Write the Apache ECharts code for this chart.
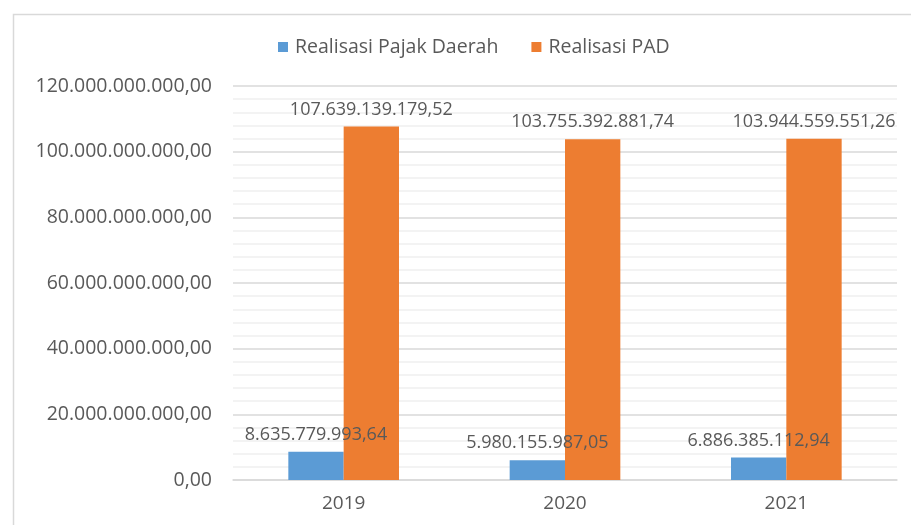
<!DOCTYPE html>
<html>
<head>
<meta charset="utf-8">
<script src="https://cdn.jsdelivr.net/npm/echarts@6/dist/echarts.min.js"></script>
<style>html,body{margin:0;padding:0;background:#fff;}#c{width:911px;height:525px;}</style>
</head>
<body>
<div id="c"></div>
<script>
var categories = ['2019', '2020', '2021'];
var pajakDaerah = [8635779993.64, 5980155987.05, 6886385112.94];
var realisasiPAD = [107639139179.52, 103755392881.74, 103944559551.26];
var seriesNames = ['Realisasi Pajak Daerah', 'Realisasi PAD'];

function fmtID(v) {
  var s = Number(v).toFixed(2).split('.');
  var intPart = s[0].replace(/\B(?=(\d{3})+(?!\d))/g, '.');
  return intPart + ',' + s[1];
}

var FONT = 'Open Sans';
var TXT = '#595959';
var chart = echarts.init(document.getElementById('c'), null, {renderer: 'canvas'});
chart.setOption({
  backgroundColor: '#fff',
  animation: false,
  graphic: [{
    type: 'rect', left: 11, top: 12, silent: true,
    shape: {x: 0, y: 0, width: 920, height: 540},
    style: {fill: 'none', stroke: '#d9d9d9', lineWidth: 1.5}
  }],
  legend: {
    top: 32, left: 273,
    itemWidth: 10, itemHeight: 10, itemGap: 33,
    icon: 'rect',
    textStyle: {fontFamily: FONT, fontSize: 19.5, color: TXT, padding: [0, 0, 0, 2]},
    data: seriesNames
  },
  grid: {left: 233, right: 14, top: 86, bottom: 45},
  xAxis: {
    type: 'category', data: categories,
    axisLine: {show: true, lineStyle: {color: '#d9d9d9', width: 1.5}},
    axisTick: {show: false},
    axisLabel: {fontFamily: FONT, fontSize: 19, color: TXT, margin: 14}
  },
  yAxis: {
    type: 'value', min: 0, max: 120000000000, interval: 20000000000,
    axisLine: {show: false}, axisTick: {show: false},
    axisLabel: {fontFamily: FONT, fontSize: 19.5, color: TXT, margin: 21, formatter: fmtID},
    splitLine: {lineStyle: {color: '#d9d9d9', width: 1.5}},
    minorTick: {show: false, splitNumber: 5},
    minorSplitLine: {show: true, lineStyle: {color: '#efefef', width: 1.5}}
  },
  series: [{
    name: seriesNames[0], type: 'bar', data: pajakDaerah,
    barGap: '0%', barCategoryGap: '50%',
    itemStyle: {color: '#5b9bd5'},
    label: {show: true, position: 'top', distance: 8, fontFamily: FONT, fontSize: 18, color: TXT, formatter: function(p){return fmtID(p.value);}}
  }, {
    name: seriesNames[1], type: 'bar', data: realisasiPAD,
    barGap: '0%', barCategoryGap: '50%',
    itemStyle: {color: '#ed7d31'},
    label: {show: true, position: 'top', distance: 8, fontFamily: FONT, fontSize: 18, color: TXT, formatter: function(p){return fmtID(p.value);}}
  }]
});
</script>
</body>
</html>
